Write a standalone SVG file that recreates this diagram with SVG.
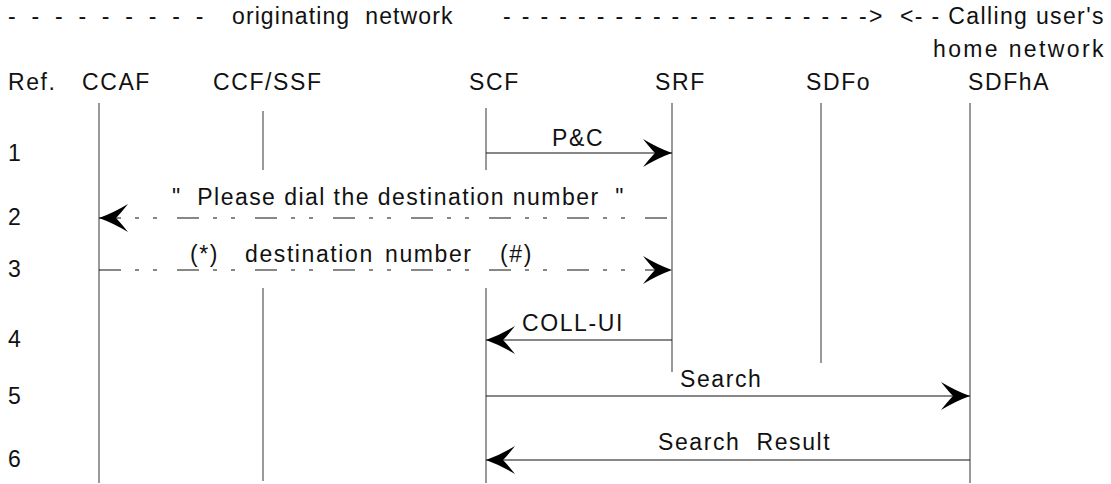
<svg xmlns="http://www.w3.org/2000/svg" width="1111" height="484" viewBox="0 0 1111 484" xml:space="preserve">
<style>
text{font-family:"Liberation Sans",Arial,sans-serif;font-size:23px;letter-spacing:1.6px;fill:#111;white-space:pre}
.life{stroke:#777;stroke-width:1.5;fill:none}
.msg{stroke:#111;stroke-width:1.2;fill:none;marker-end:url(#ah)}
.dd{stroke-dasharray:22 14 4 14 4 20}
</style>
<defs>
<marker id="ah" viewBox="-31 -16 33 32" refX="0" refY="0" markerWidth="33" markerHeight="32" markerUnits="userSpaceOnUse" orient="auto-start-reverse">
<path d="M0,0 Q-14,-5 -29,-14 Q-21,-4 -17,0 Q-21,4 -29,14 Q-14,5 0,0 Z" fill="#000"/>
</marker>
</defs>
<rect width="1111" height="484" fill="#fff"/>
<g id="header">
<text x="8" y="24" textLength="197" lengthAdjust="spacing">- - - - - - - - -</text>
<text x="232" y="24" textLength="222" lengthAdjust="spacing">originating  network</text>
<text x="503" y="24" textLength="381" lengthAdjust="spacing">- - - - - - - - - - - - - - - - - - - -&gt;</text>
<text x="900" y="24" textLength="205" lengthAdjust="spacing">&lt;- - Calling user's</text>
<text x="933" y="57" textLength="172" lengthAdjust="spacing">home network</text>
<text x="8" y="90">Ref.</text>
<text x="8" y="161">1</text>
<text x="8" y="225">2</text>
<text x="8" y="277">3</text>
<text x="8" y="347">4</text>
<text x="8" y="404">5</text>
<text x="8" y="467">6</text>
</g>
<g id="CCAF">
<text x="82" y="90">CCAF</text>
<line class="life" x1="99" y1="103" x2="99" y2="483"/>
</g>
<g id="CCF_SSF">
<text x="213" y="90">CCF/SSF</text>
<line class="life" x1="263" y1="111" x2="263" y2="170"/>
<line class="life" x1="263" y1="288" x2="263" y2="481"/>
</g>
<g id="SCF">
<text x="469" y="90">SCF</text>
<line class="life" x1="486" y1="108" x2="486" y2="170"/>
<line class="life" x1="486" y1="288" x2="486" y2="483"/>
</g>
<g id="SRF">
<text x="655" y="90">SRF</text>
<line class="life" x1="672" y1="103" x2="672" y2="372"/>
</g>
<g id="SDFo">
<text x="806" y="90">SDFo</text>
<line class="life" x1="821" y1="103" x2="821" y2="363"/>
</g>
<g id="SDFhA">
<text x="968" y="90">SDFhA</text>
<line class="life" x1="970" y1="103" x2="970" y2="483"/>
</g>
<g id="connectors">
<line class="msg" x1="486" y1="153" x2="672" y2="153"/>
<text x="552" y="146">P&amp;C</text>
<line class="msg dd" x1="99" y1="218" x2="672" y2="218" style="marker-end:none;marker-start:url(#ah)"/>
<text x="172" y="205" textLength="453" lengthAdjust="spacing">"  Please dial the destination number  "</text>
<line class="msg dd" x1="99" y1="270" x2="672" y2="270"/>
<text y="262"><tspan x="190">(*)</tspan><tspan x="245">destination</tspan><tspan x="385">number</tspan><tspan x="500">(#)</tspan></text>
<line class="msg" x1="672" y1="340" x2="486" y2="340"/>
<text x="522" y="331">COLL-UI</text>
<line class="msg" x1="486" y1="396" x2="970" y2="396"/>
<text x="680" y="387">Search</text>
<line class="msg" x1="970" y1="460" x2="486" y2="460"/>
<text x="658" y="450">Search  Result</text>
</g>
</svg>
